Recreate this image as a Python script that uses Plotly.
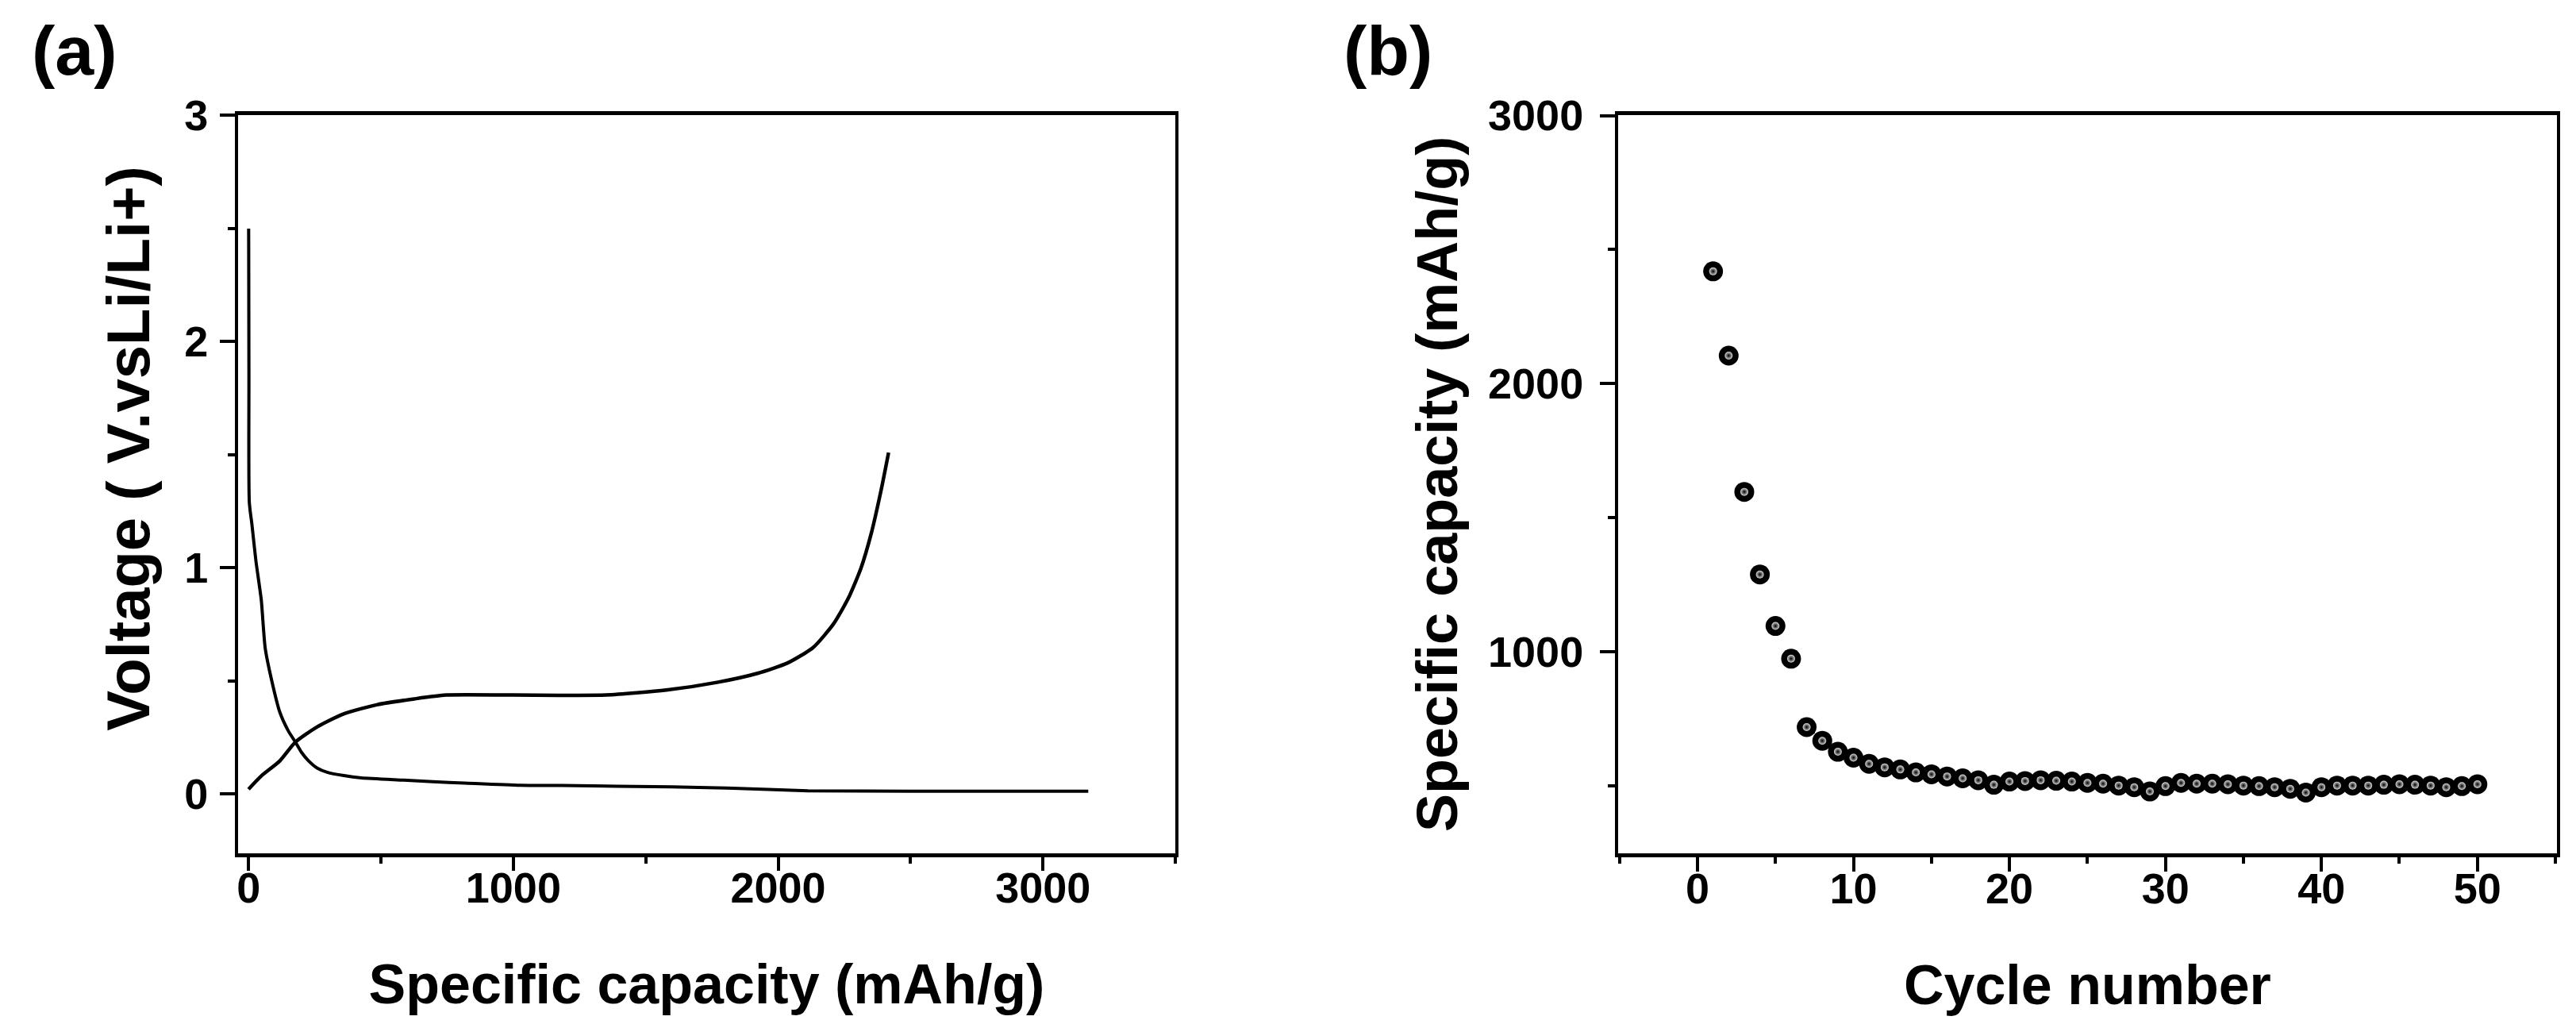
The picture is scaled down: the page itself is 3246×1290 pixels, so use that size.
import plotly.graph_objects as go

# ---------------- data: panel (a) voltage profile ----------------
discharge_cap = [0.5, 1, 1.5, 3, 13, 28, 48, 63, 88, 118, 150, 177, 200, 227, 260, 297,
                 360, 427, 586, 696, 815, 1025, 1184, 1597, 1806, 2112, 2500, 3171]
discharge_v = [2.50, 2.20, 1.84, 1.29, 1.19, 1.03, 0.86, 0.645, 0.50, 0.363, 0.28, 0.23, 0.185,
               0.147, 0.115, 0.097, 0.082, 0.072, 0.062, 0.055, 0.049, 0.039, 0.038, 0.032,
               0.027, 0.015, 0.013, 0.013]

charge_cap = [0, 48, 118, 177, 257, 357, 487, 626, 746, 1000, 1349, 1578, 1769, 1922, 2036,
              2132, 2208, 2265, 2313, 2351, 2389, 2417]
charge_v = [0.022, 0.08, 0.147, 0.23, 0.296, 0.354, 0.396, 0.421, 0.438, 0.438, 0.438, 0.46,
            0.494, 0.534, 0.58, 0.648, 0.751, 0.866, 1.00, 1.15, 1.345, 1.51]

# ---------------- data: panel (b) cycling ----------------
cycles = list(range(1, 51))
capacity = [2419, 2105, 1597, 1289, 1097, 975, 720, 669, 628, 606,
            583, 570, 562, 551, 544, 536, 529, 522, 505, 517,
            519, 522, 520, 517, 512, 509, 502, 496, 480, 500,
            512, 509, 509, 507, 502, 500, 496, 490, 476, 496,
            502, 502, 502, 505, 507, 505, 502, 496, 500, 507]

a_xticks = [0, 1000, 2000, 3000]
a_yticks = [0, 1, 2, 3]
b_xticks = [0, 10, 20, 30, 40, 50]
b_yticks = [1000, 2000, 3000]

W, H = 3246, 1290
FONT = "Arial, Liberation Sans, sans-serif"

fig = go.Figure()
fig.add_trace(go.Scatter(x=discharge_cap, y=discharge_v, mode="lines",
                         line=dict(color="black", width=4, shape="spline", smoothing=0.6),
                         xaxis="x", yaxis="y", showlegend=False))
fig.add_trace(go.Scatter(x=charge_cap, y=charge_v, mode="lines",
                         line=dict(color="black", width=4.5, shape="spline", smoothing=0.6),
                         xaxis="x", yaxis="y", showlegend=False))
# sphere-like markers: dark ball plus a soft highlight drawn from the same data
fig.add_trace(go.Scatter(x=cycles, y=capacity, mode="markers",
                         marker=dict(size=25, color="black", line=dict(width=0)),
                         xaxis="x2", yaxis="y2", showlegend=False))
fig.add_trace(go.Scatter(x=cycles, y=capacity, mode="markers",
                         marker=dict(size=10, color="#d8d8d8",
                                     gradient=dict(type="radial", color="black"),
                                     line=dict(width=0)),
                         xaxis="x2", yaxis="y2", showlegend=False, hoverinfo="skip"))

tickfont = dict(family=FONT, size=54, color="black", weight="bold")
titlefont_x = dict(family=FONT, size=70, color="black", weight="bold")

common = dict(showgrid=False, zeroline=False, showline=True, linecolor="black",
              ticks="outside", tickcolor="black", tickwidth=4, tickfont=tickfont)

ydom = [(H - 1062) / H, (H - 110) / H]

fig.update_layout(
    width=W, height=H,
    margin=dict(l=0, r=0, t=0, b=0),
    paper_bgcolor="white", plot_bgcolor="white",
    xaxis=dict(domain=[290 / W, 1472 / W], range=[-40, 3500], anchor="y",
               tickvals=a_xticks, ticklen=17, linewidth=5, mirror=True,
               minor=dict(dtick=500, tick0=0, ticklen=8, tickwidth=3.5, tickcolor="black", ticks="outside"),
               ticklabelstandoff=-25,
               title=dict(text="Specific capacity (mAh/g)", font=titlefont_x, standoff=70),
               **common),
    yaxis=dict(domain=ydom, range=[-0.262, 3.003], anchor="x",
               tickvals=a_yticks, ticklen=19, linewidth=3.5, mirror=True,
               minor=dict(dtick=0.5, tick0=0, ticklen=9, tickwidth=3.5, tickcolor="black", ticks="outside"),
               ticklabelstandoff=4,
               **common),
    xaxis2=dict(domain=[2030 / W, 3214 / W], range=[-5.1, 55.1], anchor="y2",
                tickvals=b_xticks, ticklen=18, linewidth=5, mirror=True,
                minor=dict(dtick=5, tick0=0, ticklen=8, tickwidth=3.5, tickcolor="black", ticks="outside"),
                ticklabelstandoff=-25,
                title=dict(text="Cycle number", font=titlefont_x, standoff=70),
                **common),
    yaxis2=dict(domain=ydom, range=[249, 3003], anchor="x2",
                tickvals=b_yticks, ticklen=19, linewidth=3.5, mirror=True,
                minor=dict(dtick=500, tick0=0, ticklen=9, tickwidth=3.5, tickcolor="black", ticks="outside"),
                ticklabelstandoff=10,
                title=dict(text="Specific capacity (mAh/g)",
                           font=dict(family=FONT, size=72, color="black", weight="bold"), standoff=16),
                **common),
    annotations=[
        dict(text="Voltage ( V.vsLi/Li+)", textangle=-90, x=152 / W, y=1 - 540 / H,
             xref="paper", yref="paper", xanchor="center", yanchor="middle", showarrow=False,
             font=dict(family=FONT, size=76, color="black", weight="bold")),
        dict(text="(a)", x=84 / W, y=1 - 27 / H, xref="paper", yref="paper",
             xanchor="center", yanchor="middle", showarrow=False,
             font=dict(family=FONT, size=88, color="black", weight="bold")),
        dict(text="(b)", x=1740 / W, y=1 - 27 / H, xref="paper", yref="paper",
             xanchor="center", yanchor="middle", showarrow=False,
             font=dict(family=FONT, size=88, color="black", weight="bold")),
    ],
)

fig.write_html("out.html")
